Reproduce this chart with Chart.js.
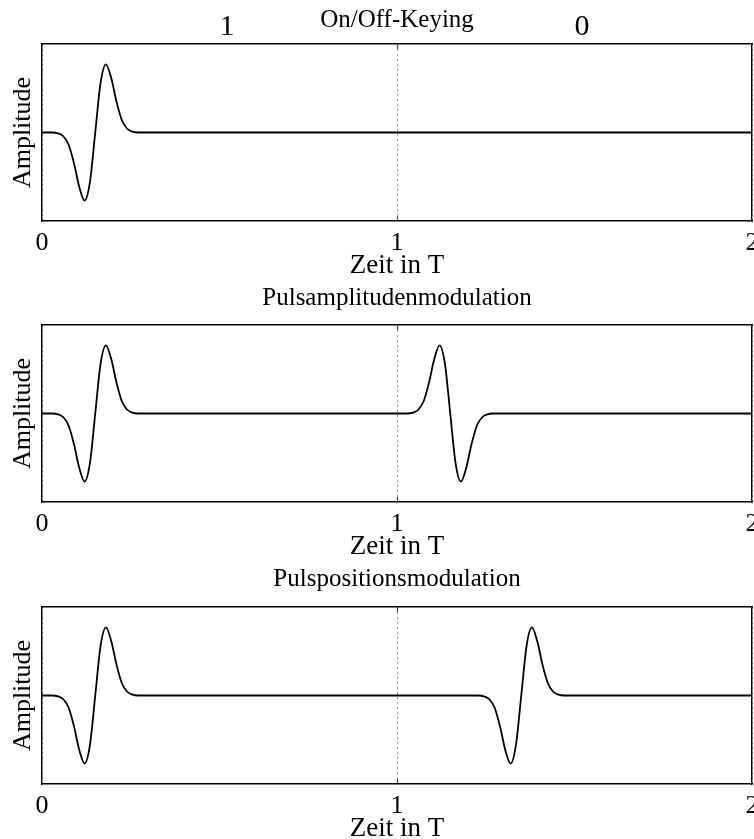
<!DOCTYPE html>
<html>
<head>
<meta charset="utf-8">
<script src="https://cdn.jsdelivr.net/npm/chart.js@4/dist/chart.umd.min.js"></script>
<style>
body { margin: 0; background: #fff; width: 754px; height: 839px; overflow: hidden; position: relative; }
.panel { position: absolute; left: 0; width: 754px; height: 283px; }
</style>
</head>
<body>
<div class="panel" style="top:0px"><canvas id="ook" width="754" height="283"></canvas></div>
<div class="panel" style="top:281px"><canvas id="pam" width="754" height="283"></canvas></div>
<div class="panel" style="top:563px"><canvas id="ppm" width="754" height="283"></canvas></div>
<script>
// labels
const xTickValues = [0, 1, 2];
const xTickLabels = ['0', '1', '2'];
const topTickValues = [0.5, 1, 1.5];
const bitLabels = ['1', '', '0'];   // sent bits, written over the two symbol slots
const noLabels = ['', '', ''];
const yLabel = 'Amplitude';
const xLabel = 'Zeit in T';

// On/Off-Keying: one pulse for the 1, nothing for the 0
const timeOOK = [0, 0.03, 0.045, 0.06, 0.075, 0.09, 0.105, 0.12, 0.135, 0.15, 0.165, 0.18, 0.195, 0.21, 0.225, 0.24, 0.255, 0.27, 2];
const ampOOK  = [0, 0, -0.013, -0.055, -0.18, -0.45, -0.80, -1.0, -0.73, 0, 0.73, 1.0, 0.80, 0.45, 0.18, 0.055, 0.013, 0, 0];

// Pulsamplitudenmodulation: second pulse inverted
const timePAM = [0, 0.03, 0.045, 0.06, 0.075, 0.09, 0.105, 0.12, 0.135, 0.15, 0.165, 0.18, 0.195, 0.21, 0.225, 0.24, 0.255, 0.27,
                 1.03, 1.045, 1.06, 1.075, 1.09, 1.105, 1.12, 1.135, 1.15, 1.165, 1.18, 1.195, 1.21, 1.225, 1.24, 1.255, 1.27, 2];
const ampPAM  = [0, 0, -0.013, -0.055, -0.18, -0.45, -0.80, -1.0, -0.73, 0, 0.73, 1.0, 0.80, 0.45, 0.18, 0.055, 0.013, 0,
                 0, 0.013, 0.055, 0.18, 0.45, 0.80, 1.0, 0.73, 0, -0.73, -1.0, -0.80, -0.45, -0.18, -0.055, -0.013, 0, 0];

// Pulspositionsmodulation: second pulse shifted later
const timePPM = [0, 0.03, 0.045, 0.06, 0.075, 0.09, 0.105, 0.12, 0.135, 0.15, 0.165, 0.18, 0.195, 0.21, 0.225, 0.24, 0.255, 0.27,
                 1.23, 1.245, 1.26, 1.275, 1.29, 1.305, 1.32, 1.335, 1.35, 1.365, 1.38, 1.395, 1.41, 1.425, 1.44, 1.455, 1.47, 2];
const ampPPM  = [0, 0, -0.013, -0.055, -0.18, -0.45, -0.80, -1.0, -0.73, 0, 0.73, 1.0, 0.80, 0.45, 0.18, 0.055, 0.013, 0,
                 0, -0.013, -0.055, -0.18, -0.45, -0.80, -1.0, -0.73, 0, 0.73, 1.0, 0.80, 0.45, 0.18, 0.055, 0.013, 0, 0];

const FONT = "'Liberation Serif', 'Times New Roman', serif";
const PLOT_TOP = 44, PLOT_BOTTOM = 221, PLOT_LEFT = 42, CANVAS_H = 283;
const TITLE_SIZE = 25;

// only the tick at t = 1 is drawn (the ones at 0 and 2 sit on the frame)
const midTickColor = c => (c.tick && c.tick.value === 1) ? '#444' : 'rgba(0,0,0,0)';
const noEdgePadding = s => { s.paddingLeft = 0; s.paddingRight = 0; };

function makeChart(id, title, times, amps, titleCenter, topLabels) {
    const pts = times.map((t, i) => ({x: t, y: amps[i]}));
    const ctx = document.getElementById(id).getContext('2d');
    return new Chart(ctx, {
        type: 'line',
        data: {
            datasets: [{
                data: pts,
                borderColor: '#000',
                borderWidth: 1.8,
                pointRadius: 0,
                cubicInterpolationMode: 'monotone',
                fill: false
            }]
        },
        options: {
            responsive: false,
            animation: false,
            layout: {padding: 0, autoPadding: false},
            plugins: {
                legend: {display: false},
                tooltip: {enabled: false}
            },
            scales: {
                x: {
                    type: 'linear', position: 'bottom', min: 0, max: 2,
                    afterBuildTicks: a => { a.ticks = xTickValues.map(v => ({value: v})); },
                    afterFit: s => { s.height = CANVAS_H - PLOT_BOTTOM; noEdgePadding(s); },
                    ticks: {
                        callback: (v, i) => xTickLabels[i],
                        color: '#000', padding: 14, maxRotation: 0, autoSkip: false,
                        font: {family: FONT, size: 26, lineHeight: 1}
                    },
                    grid: {display: true, drawTicks: true, tickLength: -5, tickColor: midTickColor, tickWidth: 1.2,
                           color: '#9a9a9a', lineWidth: 1},
                    border: {display: true, color: '#000', width: 1.4, dash: [2, 3]},
                    title: {
                        display: true, text: xLabel, color: '#000',
                        font: {family: FONT, size: 27, lineHeight: 1.2},
                        padding: {top: 0, bottom: 1}
                    }
                },
                xTop: {
                    type: 'linear', position: 'top', min: 0, max: 2,
                    afterBuildTicks: a => { a.ticks = topTickValues.map(v => ({value: v})); },
                    afterFit: s => { s.height = PLOT_TOP; noEdgePadding(s); },
                    ticks: {
                        callback: (v, i) => topLabels[i],
                        align: 'start', color: '#000', padding: 7, maxRotation: 0, autoSkip: false,
                        font: {family: FONT, size: 30, lineHeight: 1}
                    },
                    grid: {display: true, drawOnChartArea: false, drawTicks: true, tickLength: -5,
                           tickColor: midTickColor, tickWidth: 1.2},
                    border: {display: true, color: '#000', width: 1.4},
                    title: {
                        display: true, text: title, color: '#000',
                        font: {family: FONT, size: TITLE_SIZE, lineHeight: 1.2},
                        padding: {top: titleCenter - TITLE_SIZE * 0.6, bottom: 0}
                    }
                },
                y: {
                    min: -1.3, max: 1.3,
                    afterFit: s => { s.width = PLOT_LEFT; },
                    ticks: {display: false},
                    grid: {display: false},
                    border: {display: true, color: '#000', width: 1.4},
                    title: {
                        display: true, text: yLabel, color: '#000',
                        font: {family: FONT, size: 26, lineHeight: 1.2},
                        padding: {top: 7.4, bottom: 0}
                    }
                },
                yRight: {
                    position: 'right', min: -1.3, max: 1.3,
                    afterFit: s => { s.width = 2; },
                    ticks: {display: false},
                    grid: {display: false},
                    border: {display: true, color: '#000', width: 1.4}
                }
            }
        }
    });
}

makeChart('ook', 'On/Off-Keying', timeOOK, ampOOK, 20, bitLabels);
makeChart('pam', 'Pulsamplitudenmodulation', timePAM, ampPAM, 17, noLabels);
makeChart('ppm', 'Pulspositionsmodulation', timePPM, ampPPM, 16.5, noLabels);
</script>
</body>
</html>
